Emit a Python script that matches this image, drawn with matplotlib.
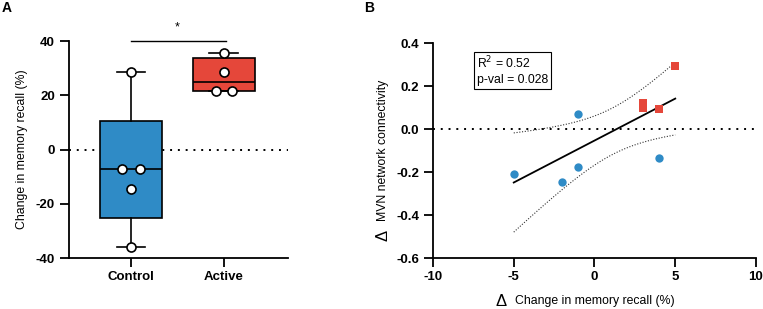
import numpy as np
import matplotlib.pyplot as plt

plt.rcParams['font.family'] = ['Liberation Sans', 'DejaVu Sans']
plt.rcParams['font.size'] = 8.8
plt.rcParams['axes.unicode_minus'] = False

# ---- data: panel A ----
groups = ['Control', 'Active']
control = [28.6, -7.3, -7.3, -14.5, -36.0]
active = [35.7, 28.6, 21.5, 21.5]
# x jitter used by the dot plot (in category units)
control_dx = [0.0, -0.1, 0.1, 0.0, 0.0]
active_dx = [0.0, 0.0, -0.09, 0.09]

# ---- data: panel B ----
ctrl_x = [-5, -2, -1, -1, 4]
ctrl_y = [-0.21, -0.245, 0.07, -0.175, -0.135]
act_x = [5, 3, 3, 4]
act_y = [0.295, 0.121, 0.100, 0.092]

blue = '#2f8bc6'
red = '#e5473a'

fig = plt.figure(figsize=(7.63, 3.09), dpi=100)

# ===================== Panel A =====================
axA = fig.add_axes([0.0904, 0.165, 0.2871, 0.702])


def box_stats(vals):
    v = np.array(vals)
    q1, med, q3 = np.quantile(v, [0.25, 0.5, 0.75], method='weibull')
    return dict(med=med, q1=q1, q3=q3, whislo=v.min(), whishi=v.max(), fliers=[])


stats = [box_stats(control), box_stats(active)]
bp = axA.bxp(stats, positions=[1, 2], widths=0.66, patch_artist=True,
             showfliers=False,
             boxprops=dict(linewidth=1.2, edgecolor='black'),
             medianprops=dict(color='black', linewidth=1.2),
             whiskerprops=dict(linewidth=1.2),
             capprops=dict(linewidth=1.2), capwidths=0.31, zorder=3)
for patch, c in zip(bp['boxes'], [blue, red]):
    patch.set_facecolor(c)

axA.axhline(0, color='black', ls=(0, (1, 3)), lw=1.4, zorder=1)

for pos, vals, dx in [(1, control, control_dx), (2, active, active_dx)]:
    axA.plot(pos + np.array(dx), vals, 'o', ms=6.5, mfc='white', mec='black',
             mew=1.2, zorder=5, clip_on=False)

axA.set_xlim(0.333, 2.69)
axA.set_ylim(-40, 40)
axA.set_yticks([-40, -20, 0, 20, 40])
axA.set_xticks([1, 2])
axA.set_xticklabels(groups)
axA.set_ylabel('Change in memory recall (%)', labelpad=6)

# significance bar
axA.plot([1, 2.02], [40, 40], color='black', lw=1.0, clip_on=False)
axA.text(1.5, 42.7, '*', ha='center', va='bottom', fontsize=9)

# ===================== Panel B =====================
axB = fig.add_axes([0.5675, 0.165, 0.4233, 0.695])

all_x = np.array(ctrl_x + act_x, dtype=float)
all_y = np.array(ctrl_y + act_y, dtype=float)
n = len(all_x)
slope, intercept = np.polyfit(all_x, all_y, 1)
xs = np.linspace(all_x.min(), all_x.max(), 100)
fit = intercept + slope * xs
resid = all_y - (intercept + slope * all_x)
s = np.sqrt(np.sum(resid ** 2) / (n - 2))
sxx = np.sum((all_x - all_x.mean()) ** 2)
tcrit = 2.365  # t(0.975, df=7)
se = s * np.sqrt(1.0 / n + (xs - all_x.mean()) ** 2 / sxx)

axB.axhline(0, color='black', ls=(0, (1, 3)), lw=1.4, zorder=1)
axB.plot(xs, fit, color='black', lw=1.3, zorder=3)
axB.plot(xs, fit + tcrit * se, color='#333333', ls=(0, (1, 1.5)), lw=0.8, zorder=2)
axB.plot(xs, fit - tcrit * se, color='#333333', ls=(0, (1, 1.5)), lw=0.8, zorder=2)

axB.scatter(ctrl_x, ctrl_y, s=36, color=blue, marker='o', zorder=4, linewidths=0)
axB.scatter(act_x, act_y, s=34, color=red, marker='s', zorder=4, linewidths=0)

axB.set_xlim(-10, 10)
axB.set_ylim(-0.6, 0.4)
axB.set_xticks([-10, -5, 0, 5, 10])
axB.set_yticks([-0.6, -0.4, -0.2, 0.0, 0.2, 0.4])
axB.set_yticklabels(['-0.6', '-0.4', '-0.2', '0.0', '0.2', '0.4'])
axB.set_xticklabels(['-10', '-5', '0', '5', '10'])
axB.set_xlabel('Change in memory recall (%)', labelpad=9)
axB.set_ylabel('MVN network connectivity', labelpad=5)

# the larger delta signs in front of the axis titles
axB.annotate('Δ', xy=(0, 0.5), xycoords=axB.xaxis.label, xytext=(-6, 0),
             textcoords='offset points', ha='right', va='center', fontsize=12)
axB.annotate('Δ', xy=(0.5, 0), xycoords=axB.yaxis.label, xytext=(0, -6),
             textcoords='offset points', ha='center', va='top', fontsize=12,
             rotation=90)

axB.text(0.135, 0.945, 'R$^2$ = 0.52\np-val = 0.028', transform=axB.transAxes,
         ha='left', va='top', linespacing=1.3,
         bbox=dict(boxstyle='square,pad=0.25', fc='white', ec='black', lw=0.8))

for ax in (axA, axB):
    for side in ('top', 'right'):
        ax.spines[side].set_visible(False)
    for side in ('left', 'bottom'):
        ax.spines[side].set_linewidth(1.3)
    ax.tick_params(width=1.3, length=6.5, labelsize=9.5)
    ax.tick_params(axis='y', pad=3.5)
    ax.tick_params(axis='x', pad=2.5)
    for lab in ax.get_yticklabels() + ax.get_xticklabels():
        lab.set_fontweight('bold')

fig.text(0.002, 0.997, 'A', fontsize=10, fontweight='bold', va='top')
fig.text(0.477, 0.997, 'B', fontsize=10, fontweight='bold', va='top')

fig.savefig('out.png', dpi=100)
